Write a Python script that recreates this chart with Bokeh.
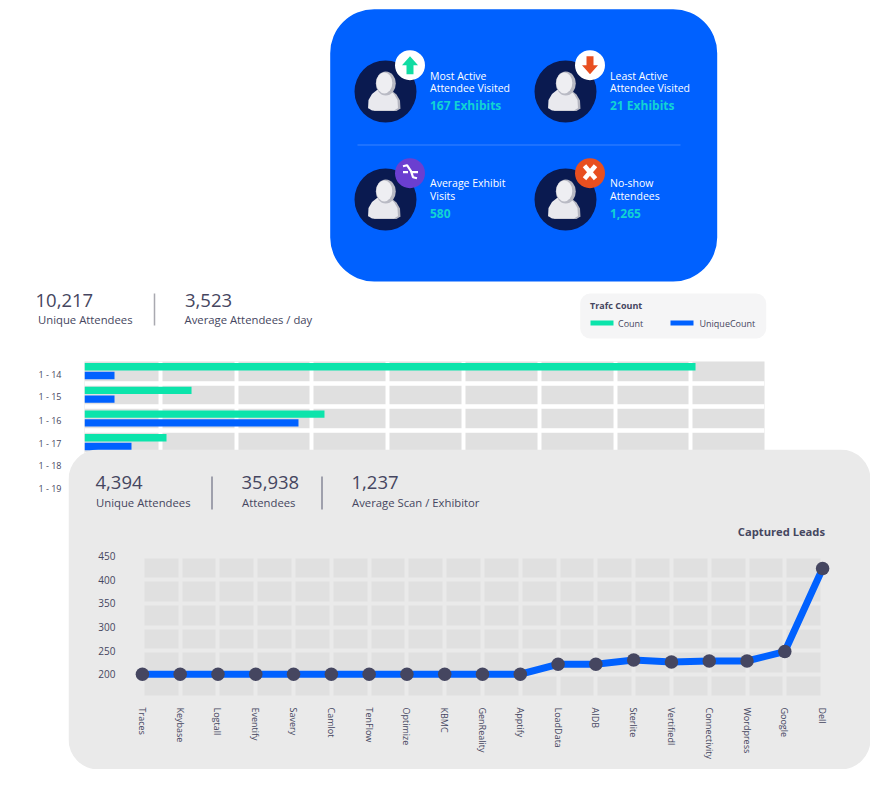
from bokeh.plotting import figure
from bokeh.layouts import column
from bokeh.models import Range1d, FixedTicker, FactorRange, Grid
from bokeh.core.properties import value
from bokeh.embed import file_html
from bokeh.resources import INLINE
import numpy as np

# ---- data -----
days = ["1 - 14", "1 - 15", "1 - 16", "1 - 17", "1 - 18", "1 - 19"]
count = [8061, 1412, 3166, 1082]
unique_count = [396, 396, 2823, 620]
companies = ["Traces", "Keybase", "Logtall", "Eventify", "Savery", "Camlot", "TenFlow", "Optimize",
             "KBMC", "GenReality", "Apptify", "LoadData", "AIDB", "Sterlite", "Vertifiedl",
             "Connectivity", "Wordpress", "Google", "Dell"]
leads = [200, 200, 200, 200, 200, 200, 200, 200, 200, 200, 200, 221, 221, 230, 226, 228, 228, 248, 424]
lead_ticks = [200, 250, 300, 350, 400, 450]
card_items = [
    ("Most Active", "Attendee Visited", "167 Exhibits"),
    ("Least Active", "Attendee Visited", "21 Exhibits"),
    ("Average Exhibit", "Visits", "580"),
    ("No-show", "Attendees", "1,265"),
]
top_stats = [("10,217", "Unique Attendees"), ("3,523", "Average Attendees / day")]
panel_stats = [("4,394", "Unique Attendees"), ("35,938", "Attendees"), ("1,237", "Average Scan / Exhibitor")]

FONT = value("Open Sans")
INK = "#454660"
BLUE = "#0061ff"
GREEN = "#0be4ab"
TEAL = "#12d3d3"
NAVY = "#0a1a50"
CELL = "#e0e0e0"
PANEL = "#eaeaea"


def canvas(left, top, w, h):
    """A transparent figure whose data coordinates are page pixels."""
    f = figure(width=w, height=h, x_range=Range1d(left, left + w), y_range=Range1d(top + h, top),
               output_backend="svg", toolbar_location=None, min_border=0, outline_line_color=None,
               border_fill_color=None, background_fill_color=None)
    f.axis.visible = False
    f.grid.visible = False
    return f


def txt(f, x, y, s, size, color=INK, style="normal", align="left"):
    f.text([x], [y], text=[s], text_font=FONT, text_font_size=value(f"{size}px"), text_color=color,
           text_font_style=style, text_baseline="middle", text_align=align)


def rule(f, x0, y0, x1, y1, color, width):
    f.segment([x0], [y0], [x1], [y1], line_color=color, line_width=width)


# ---- top layer: card, stats, legend ----
top = canvas(8, 8, 872, 347)
top.quad(left=[329.7], right=[716.7], top=[8.7], bottom=[281], fill_color=BLUE, line_color=None, border_radius=44)
rule(top, 357, 144.5, 680, 144.5, "#3b84ff", 1)

centres = [(385, 91), (565, 91), (385, 199), (565, 199)]
badges = ["#ffffff", "#ffffff", "#6b3fd0", "#e84f20"]
for (cx, cy), (l1, l2, v), b in zip(centres, card_items, badges):
    top.circle([cx], [cy], radius=31, fill_color=NAVY, line_color=None)
    # person
    bx = np.array([-15, -14.5, -11, -6, 6, 11, 14.5, 15, 15, 11, -11, -15]) + cx
    by = np.array([18, 9, 3, -1, -1, 3, 9, 18, 17, 19.5, 19.5, 17]) + cy
    top.patch(bx, by, fill_color="#b4b5c0", line_color=None)
    top.patch(bx - 2.5, by - 0.5, fill_color="#e9e9ee", line_color=None)
    top.ellipse([cx + .3], [cy - 8], width=20, height=24, fill_color="#b9bac4", line_color=None)
    top.ellipse([cx - 1.2], [cy - 8.6], width=16, height=21, fill_color="#eeeef2", line_color=None)
    # badge
    top.circle([cx + 24.5], [cy - 26.3], radius=15, fill_color=b, line_color=None)
    tx = cx + 44.5
    lower = l1 in ("Average Exhibit", "No-show")
    txt(top, tx, cy - (16.5 if lower else 16), l1, 10.5, "#ffffff")
    txt(top, tx, cy - (4 if lower else 3.5), l2, 10.5, "#ffffff")
    txt(top, tx, cy + (14 if lower else 13.5), v, 12, TEAL, "bold")

# badge glyphs
ax, ay = 409.5, 64.7
top.patch(ax + np.array([0, 8, 3.5, 3.5, -3.5, -3.5, -8]), ay + np.array([-9, 0, 0, 9, 9, 0, 0]),
          fill_color="#10dca2", line_color=None)
ax = 589.5
top.patch(ax + np.array([0, 8, 3.5, 3.5, -3.5, -3.5, -8]), ay - np.array([-9, 0, 0, 9, 9, 0, 0]),
          fill_color="#e84f20", line_color=None)
ax, ay = 409.5, 171.7
top.multi_line([[ax - 7, ax - 3, ax + 1, ax + 3, ax + 7], [ax - 7, ax - 2], [ax + 2, ax + 8]],
               [[ay - 6, ay - 7, ay - 1, ay + 5, ay + 6], [ay, ay], [ay, ay]],
               line_color="#ffffff", line_width=2.2)
ax = 589.5
top.multi_line([[ax - 5.5, ax + 5.5], [ax + 5.5, ax - 5.5]], [[ay - 6.5, ay + 6.5], [ay - 6.5, ay + 6.5]],
               line_color="#ffffff", line_width=4.5)

for x, x2, (n, lab) in zip([35, 184.5], [37.5, 184], top_stats):
    txt(top, x, 300, n, 18.5)
    txt(top, x2, 319, lab, 11.3)
rule(top, 154, 293, 154, 325, "#a9a9b0", 1.5)

top.quad(left=[579.7], right=[765.7], top=[293], bottom=[338], fill_color="#f5f5f6", line_color=None, border_radius=10)
txt(top, 589.5, 305, "Trafc Count", 9, INK, "bold")
top.quad(left=[590], right=[613], top=[320], bottom=[325], fill_color=GREEN, line_color=None)
top.quad(left=[670], right=[693], top=[320], bottom=[325], fill_color=BLUE, line_color=None)
txt(top, 617.5, 323, "Count", 9)
txt(top, 699, 323, "UniqueCount", 9)

# ---- bar chart ----
bar = figure(width=760, height=146, x_range=Range1d(0, 8971), y_range=Range1d(6, 0.09),
             output_backend="svg", toolbar_location=None, outline_line_color=None,
             border_fill_color=None, background_fill_color=CELL,
             min_border_left=76, min_border_right=4, min_border_top=6, min_border_bottom=0)
bar.xaxis.visible = False
bar.xgrid.ticker = FixedTicker(ticks=[1000 * i for i in range(1, 9)])
bar.xgrid.grid_line_color = "#ffffff"
bar.xgrid.grid_line_width = 4
bar.ygrid.visible = False
bar.add_layout(Grid(dimension=1, ticker=FixedTicker(ticks=list(range(1, 6))), grid_line_color="#ffffff", grid_line_width=4.6))
label_rows = [0.62, 1.56, 2.58, 3.55, 4.48, 5.46]
bar.yaxis.ticker = FixedTicker(ticks=label_rows)
bar.yaxis.major_label_overrides = dict(zip(label_rows, days))
bar.yaxis.axis_line_color = None
bar.yaxis.major_tick_line_color = None
bar.yaxis.minor_tick_line_color = None
bar.yaxis.major_label_standoff = 17
bar.yaxis.major_label_text_font = "Open Sans"
bar.yaxis.major_label_text_font_size = "9px"
bar.yaxis.major_label_text_color = INK
rows = np.arange(len(count))
bar.hbar(y=rows + 0.31, right=count, left=0, height=0.31, fill_color=GREEN, line_color=None)
bar.hbar(y=rows + 0.68, right=unique_count, left=0, height=0.31, fill_color=BLUE, line_color=None)

# ---- grey panel ----
panel = canvas(68, 449, 802, 320)
panel.quad(left=[68], right=[870], top=[449], bottom=[769], fill_color=PANEL, line_color=None, border_radius=30)
for x, (n, lab) in zip([95, 241, 351], panel_stats):
    txt(panel, x, 482, n, 18.5)
    txt(panel, x + 0.5, 502, lab, 11.3)
for x in [211.5, 321.5]:
    rule(panel, x, 476, x, 509, "#55566e", 1)
txt(panel, 824.5, 531, "Captured Leads", 11.2, INK, "bold", "right")

# ---- line chart ----
line = figure(width=802, height=229, x_range=FactorRange(factors=companies, range_padding=0),
              y_range=Range1d(140, 460), output_backend="svg", toolbar_location=None,
              outline_line_color=None, border_fill_color=None, background_fill_color=None,
              min_border_left=55, min_border_right=29, min_border_top=11, min_border_bottom=67)
line.quad(left=[companies[0]], right=[companies[-1]], bottom=[150], top=[450], fill_color=CELL, line_color=None, level="image")
line.xgrid.grid_line_color = PANEL
line.xgrid.grid_line_width = 4
line.ygrid.grid_line_color = PANEL
line.ygrid.grid_line_width = 4
line.ygrid.ticker = FixedTicker(ticks=[150] + lead_ticks)
line.yaxis.ticker = FixedTicker(ticks=lead_ticks)
for a in (line.xaxis[0], line.yaxis[0]):
    a.axis_line_color = None
    a.major_tick_line_color = None
    a.minor_tick_line_color = None
    a.major_label_text_font = "Open Sans"
    a.major_label_text_color = INK
line.yaxis.major_label_text_font_size = "10px"
line.yaxis.major_label_standoff = 2
line.xaxis.major_label_text_font_size = "9px"
line.xaxis.major_label_orientation = -np.pi / 2
line.xaxis.major_label_standoff = -1
line.line(companies, leads, line_color=BLUE, line_width=7, line_join="miter")
line.scatter(companies, leads, size=13.5, fill_color=INK, line_color=None)

# each layer sits in its own wrapper, so that the frames are not aligned with one another
page = column(
    column(top, margin=(0, 0, 0, 0)),
    column(bar, margin=(0, 0, 0, 0)),
    column(panel, margin=(-52, 0, 0, 60)),
    column(line, margin=(-229, 0, 0, 60)),
    spacing=0,
    margin=(8, 0, 0, 8),
)
open("out.html", "w").write(file_html(page, INLINE))
